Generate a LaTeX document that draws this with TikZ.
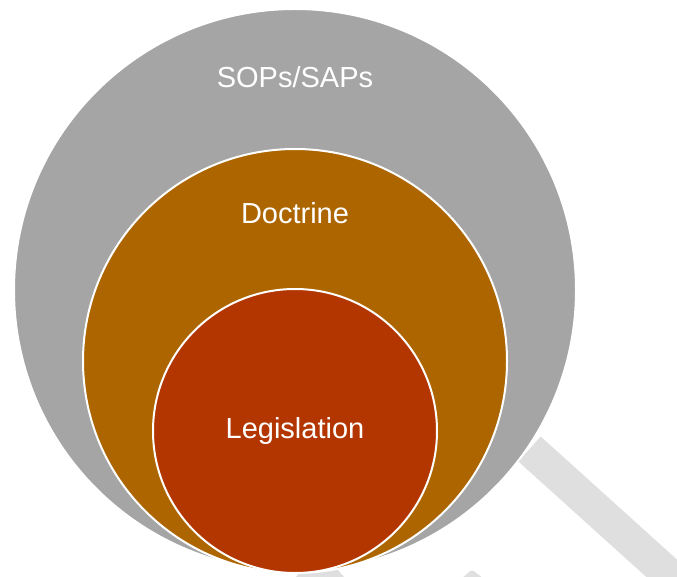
\documentclass[tikz,border=0pt]{standalone}
\usepackage{fontspec}
\setmainfont{Liberation Sans}
\definecolor{sopgray}{HTML}{A5A5A5}
\definecolor{docbrown}{HTML}{AD6500}
\definecolor{legred}{HTML}{B33500}
\definecolor{handlegray}{HTML}{DFDFDF}
\begin{document}
\begin{tikzpicture}[x=1pt, y=1pt,
        ring/.style={circle, draw=white, line width=2pt, inner sep=0pt},
        ringlabel/.style={text=white, inner sep=0pt, font=\fontsize{29}{32}\selectfont},
        handle/.style={draw=handlegray, line width=33.5pt, line cap=butt}]
        \useasboundingbox (0,0) rectangle (677,-577);
        \clip (0,0) rectangle (677,-577);
        \coordinate (hstart) at (529.5,-449);
        \coordinate (hend) at (760,-657);
        \draw [handle] (hstart) -- (hend);
        \fill [handlegray] (295,-578) -- (300,-572) -- (338,-570) -- (345,-578) -- cycle;
        \fill [handlegray, rounded corners=3pt] (461,-579) -- (472,-569.5) -- (484,-579) -- cycle;
        \node [ring, fill=sopgray, minimum size=562pt] (sops) at (295,-290) {};
        \node [ring, fill=docbrown, minimum size=424pt] (doctrine) at (295,-361) {};
        \node [ring, fill=legred, minimum size=284pt] (legislation) at (295,-431) {};
        \node [ringlabel] (sopslabel) at (295,-77) {SOPs/SAPs};
        \node [ringlabel] (doclabel) at (295,-213) {Doctrine};
        \node [ringlabel] (leglabel) at (295,-431) {Legislation};
\end{tikzpicture}
\end{document}
